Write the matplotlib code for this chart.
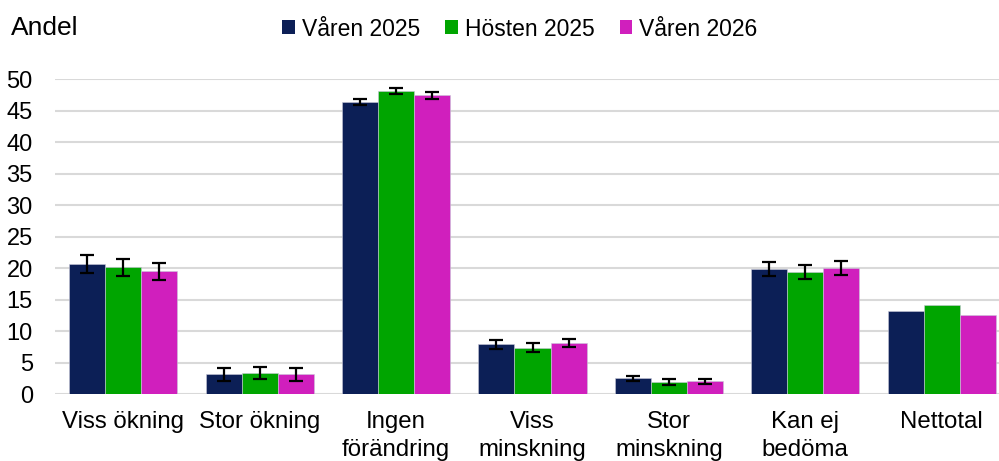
import numpy as np
import matplotlib
matplotlib.use("Agg")
import matplotlib.pyplot as plt
from matplotlib.patches import Patch

plt.rcParams["font.family"] = ["Liberation Sans", "DejaVu Sans"]

categories = ["Viss ökning", "Stor ökning", "Ingen\nförändring", "Viss\nminskning",
              "Stor\nminskning", "Kan ej\nbedöma", "Nettotal"]
series_names = ["Våren 2025", "Hösten 2025", "Våren 2026"]
colors = ["#0c1f56", "#00a500", "#d01fbd"]

varen_2025 = [20.6, 3.1, 46.3, 7.9, 2.5, 19.8, 13.2]
hosten_2025 = [20.1, 3.3, 48.1, 7.35, 1.9, 19.4, 14.2]
varen_2026 = [19.5, 3.1, 47.4, 8.1, 2.0, 19.95, 12.6]

# half-widths of the confidence intervals (Nettotal has none)
err_2025 = [1.4, 1.05, 0.5, 0.75, 0.4, 1.1, 0]
err_h2025 = [1.37, 0.97, 0.55, 0.7, 0.48, 1.15, 0]
err_2026 = [1.35, 1.0, 0.5, 0.67, 0.43, 1.1, 0]

values = [varen_2025, hosten_2025, varen_2026]
errors = [err_2025, err_h2025, err_2026]

fig = plt.figure(figsize=(9.99, 4.61), dpi=100)
ax = fig.add_axes([55 / 999, (461 - 394) / 461, 955 / 999, 315 / 461])

x = np.arange(len(categories))
w = 0.264
for i, (vals, errs, col, name) in enumerate(zip(values, errors, colors, series_names)):
    pos = x + (i - 1) * w
    ax.bar(pos, vals, width=w, color=col, edgecolor="#c8c8d8", linewidth=0.4,
           label=name, zorder=2)
    e = np.array(errs)
    has = e > 0
    ax.errorbar(pos[has], np.array(vals)[has], yerr=e[has], fmt="none",
                ecolor="black", elinewidth=1.6, capsize=5, capthick=1.6, zorder=3)

ax.set_xlim(-0.5, len(categories) - 0.5)
ax.set_ylim(0, 50)
ax.set_yticks(np.arange(0, 51, 5))
ax.yaxis.grid(True, color="#d9d9d9", linewidth=1.5, zorder=0)
ax.set_axisbelow(True)
for s in ax.spines.values():
    s.set_visible(False)
ax.tick_params(axis="y", length=0, pad=16, labelsize=17)
ax.tick_params(axis="x", length=0, pad=12, labelsize=17.3)
ax.set_xticks(x)
ax.set_xticklabels(categories, linespacing=1.35)

fig.text(11 / 999, 1 - 28 / 461, "Andel", fontsize=19, va="center", ha="left")
handles = [Patch(facecolor=c) for c in colors]
fig.legend(handles, series_names, loc="center", bbox_to_anchor=(520 / 999, 1 - 29 / 461),
           ncol=3, frameon=False, fontsize=16.5, handlelength=0.55, handleheight=0.55,
           handletextpad=0.3, columnspacing=1.1, borderpad=0)

fig.savefig("out.png", dpi=100)
